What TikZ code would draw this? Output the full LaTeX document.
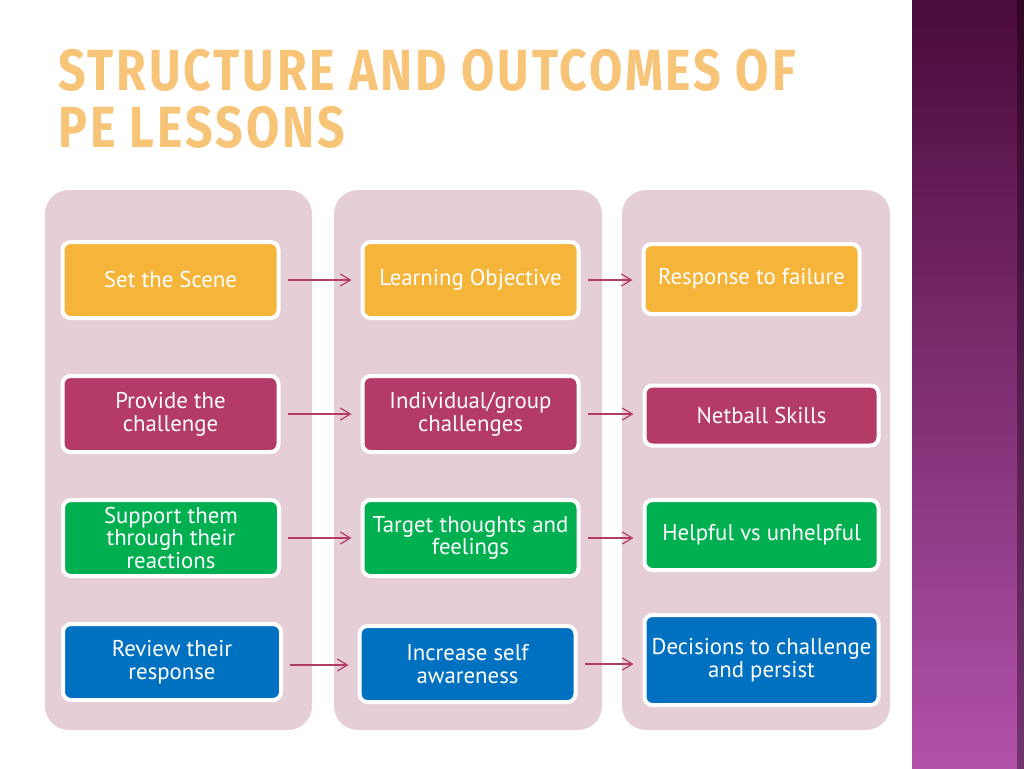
\documentclass[tikz,border=0pt]{standalone}
\usepackage{fontspec}
\setmainfont{PT Sans}
\newfontfamily\titlefont[LetterSpace=6]{Fira Sans}
\usetikzlibrary{arrows.meta}
\tikzset{>={Straight Barb[width=6pt,length=5pt]}}
\definecolor{ColorPanel}{RGB}{230,206,214}
\definecolor{ColorOrange}{RGB}{245,180,58}
\definecolor{ColorRed}{RGB}{180,58,104}
\definecolor{ColorGreen}{RGB}{0,176,80}
\definecolor{ColorBlue}{RGB}{0,112,192}
\definecolor{ColorTitle}{RGB}{247,196,120}
\definecolor{ColorBarTop}{RGB}{74,10,58}
\definecolor{ColorBarBottom}{RGB}{178,82,170}
\tikzset{
  panel/.style={fill=ColorPanel,rounded corners=12pt},
  box/.style={draw=white,line width=2pt,rounded corners=4pt,text=white,
    align=center,font=\fontsize{11.4}{11.4}\selectfont,inner sep=0pt},
  flow/.style={->,draw=ColorRed,line width=0.6pt,shorten <=3.5pt,shorten >=4.5pt},
  title/.style={anchor=base west,inner sep=0pt,text=ColorTitle,
    font=\titlefont\bfseries\fontsize{29}{29}\selectfont,xscale=0.833,transform shape}
}

\begin{document}
\begin{tikzpicture}[x=0.5pt,y=-0.5pt]
		\useasboundingbox (0,0) rectangle (1024,768);

		% side bar
		\shade[top color=ColorBarTop,bottom color=ColorBarBottom] (912,0) rectangle (1024,768);
		\shade[left color=ColorBarBottom!0!black,right color=black,opacity=0.35] (1017,0) rectangle (1024,768);

		% title
		\node[title] (title1) at (58,90) {STRUCTURE AND OUTCOMES OF};
		\node[title] (title2) at (58,147) {PE LESSONS};

		% panels
		\fill[panel] (45,190) rectangle (312,730);
		\fill[panel] (334,190) rectangle (602,730);
		\fill[panel] (622,190) rectangle (890,730);

		% row 1
		\node[box,fill=ColorOrange,minimum width=108pt,minimum height=38pt] (scene) at (170.5,280) {Set the Scene};
		\node[box,fill=ColorOrange,minimum width=108pt,minimum height=38pt] (objective) at (470.5,280) {Learning Objective};
		\node[box,fill=ColorOrange,minimum width=108pt,minimum height=35pt] (failure) at (751.5,279) {Response to failure};

		% row 2
		\node[box,fill=ColorRed,minimum width=108pt,minimum height=38pt] (provide) at (170.5,414) {Provide the\\challenge};
		\node[box,fill=ColorRed,minimum width=108pt,minimum height=38pt] (group) at (470.5,414) {Individual/group\\challenges};
		\node[box,fill=ColorRed,minimum width=117pt,minimum height=30pt] (netball) at (761.5,415.5) {Netball Skills};

		% row 3
		\node[box,fill=ColorGreen,minimum width=108pt,minimum height=38pt] (support) at (171,538) {Support them\\through their\\reactions};
		\node[box,fill=ColorGreen,minimum width=108pt,minimum height=38pt] (target) at (470.5,538) {Target thoughts and\\feelings};
		\node[box,fill=ColorGreen,minimum width=117pt,minimum height=35pt] (helpful) at (761.5,535) {Helpful vs unhelpful};

		% row 4
		\node[box,fill=ColorBlue,minimum width=109pt,minimum height=38pt] (review) at (172,662) {Review their\\response};
		\node[box,fill=ColorBlue,minimum width=108pt,minimum height=38pt] (aware) at (467.5,664) {Increase self\\awareness};
		\node[box,fill=ColorBlue,minimum width=117pt,minimum height=45pt] (persist) at (761.5,660) {Decisions to challenge\\and persist};

		% arrows
		\draw[flow] (scene.east) -- (scene.east -| objective.west);
		\draw[flow] (objective.east) -- (objective.east -| failure.west);
		\draw[flow] (provide.east) -- (provide.east -| group.west);
		\draw[flow] (group.east) -- (group.east -| netball.west);
		\draw[flow] (support.east) -- (support.east -| target.west);
		\draw[flow] (target.east) -- (target.east -| helpful.west);
		\draw[flow] ([yshift=-1.5pt]review.east) -- ([yshift=-1.5pt]review.east -| aware.west);
		\draw[flow] (aware.east) -- (aware.east -| persist.west);

	\end{tikzpicture}
\end{document}
